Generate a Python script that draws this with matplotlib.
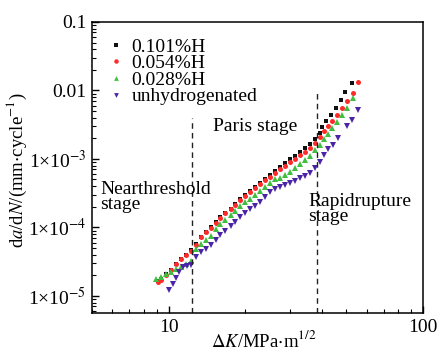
import matplotlib
matplotlib.use('Agg')
import matplotlib.pyplot as plt
from matplotlib.ticker import FixedLocator, FixedFormatter, LogLocator, NullFormatter

plt.rcParams['font.family'] = ['Liberation Serif', 'DejaVu Serif']
plt.rcParams['mathtext.fontset'] = 'stix'

# Delta K (MPa m^1/2) and da/dN (mm/cycle)
dk_h101 = [9.06, 9.30, 9.73, 10.18, 10.65, 11.14, 11.66, 12.20, 12.76, 13.35,
           13.97, 14.61, 15.29, 15.99, 16.73, 17.51, 18.31, 19.16, 20.04, 20.97,
           21.94, 22.95, 24.01, 25.12, 26.28, 27.49, 28.76, 30.09, 31.48, 32.94,
           34.45, 36.05, 37.71, 39.46, 40.18, 41.66, 43.58, 45.59, 47.70, 49.45, 52.68]
da_h101 = [1.66e-5, 1.77e-5, 2.10e-5, 2.40e-5, 2.93e-5, 3.47e-5, 3.97e-5, 4.69e-5, 5.74e-5, 7.26e-5,
           8.59e-5, 1.02e-4, 1.20e-4, 1.42e-4, 1.63e-4, 1.86e-4, 2.20e-4, 2.61e-4, 2.98e-4, 3.41e-4,
           3.90e-4, 4.46e-4, 5.11e-4, 5.84e-4, 6.68e-4, 7.64e-4, 8.74e-4, 1.00e-3, 1.11e-3, 1.26e-3,
           1.45e-3, 1.66e-3, 1.96e-3, 2.40e-3, 2.93e-3, 3.59e-3, 4.39e-3, 5.56e-3, 7.27e-3, 9.50e-3, 1.29e-2]

dk_h054 = [9.06, 9.30, 9.73, 10.18, 10.65, 11.14, 11.66, 12.20, 12.76, 13.35,
           13.97, 14.61, 15.29, 15.99, 16.73, 17.51, 18.31, 19.16, 20.04, 20.97,
           21.94, 22.95, 24.01, 25.12, 26.28, 27.49, 28.76, 30.09, 31.48, 32.94,
           34.45, 36.05, 37.71, 39.46, 40.91, 42.42, 43.98, 46.00, 48.13, 50.36, 53.15, 55.62]
da_h054 = [1.60e-5, 1.71e-5, 2.03e-5, 2.40e-5, 2.93e-5, 3.47e-5, 3.97e-5, 4.54e-5, 5.55e-5, 7.26e-5,
           8.59e-5, 9.84e-5, 1.16e-4, 1.38e-4, 1.63e-4, 1.86e-4, 2.13e-4, 2.52e-4, 2.88e-4, 3.30e-4,
           3.78e-4, 4.32e-4, 4.94e-4, 5.46e-4, 6.25e-4, 7.14e-4, 7.90e-4, 9.04e-4, 1.00e-3, 1.14e-3,
           1.26e-3, 1.45e-3, 1.71e-3, 2.10e-3, 2.56e-3, 3.03e-3, 3.59e-3, 4.39e-3, 5.56e-3, 7.03e-3,
           9.20e-3, 1.33e-2]

dk_h028 = [8.89, 9.30, 9.73, 10.18, 10.65, 11.14, 11.66, 12.20, 12.76, 13.35,
           13.97, 14.61, 15.29, 15.99, 16.73, 17.51, 18.31, 19.16, 20.04, 20.97,
           21.94, 22.95, 24.01, 25.12, 26.28, 27.49, 28.76, 30.09, 31.48, 32.94,
           34.45, 36.05, 37.71, 39.46, 40.91, 42.42, 43.98, 46.00, 48.13, 50.36, 53.15]
da_h028 = [1.77e-5, 1.89e-5, 2.10e-5, 2.24e-5, 2.48e-5, 2.65e-5, 2.93e-5, 3.24e-5, 4.85e-5, 5.74e-5,
           6.57e-5, 7.52e-5, 9.51e-5, 1.13e-4, 1.29e-4, 1.52e-4, 1.74e-4, 2.06e-4, 2.36e-4, 2.61e-4,
           2.98e-4, 3.41e-4, 3.90e-4, 4.46e-4, 5.11e-4, 5.28e-4, 5.84e-4, 6.46e-4, 7.39e-4, 8.45e-4,
           9.67e-4, 1.11e-3, 1.35e-3, 1.60e-3, 1.96e-3, 2.32e-3, 2.84e-3, 3.47e-3, 4.39e-3, 5.56e-3, 7.77e-3]

dk_unh = [10.00, 10.37, 10.65, 10.94, 11.35, 11.77, 12.20, 12.76, 13.35, 13.97,
          14.61, 15.29, 15.99, 16.73, 17.51, 18.31, 19.16, 20.04, 20.97, 21.94,
          22.95, 24.01, 25.12, 26.28, 27.49, 28.76, 30.09, 31.48, 32.94, 34.45,
          36.05, 37.71, 39.46, 40.91, 42.42, 44.38, 46.42, 50.36, 52.68, 55.62]
da_unh = [1.22e-5, 1.50e-5, 1.83e-5, 2.24e-5, 2.65e-5, 2.74e-5, 2.84e-5, 3.71e-5, 4.39e-5, 4.85e-5,
          5.55e-5, 6.57e-5, 7.77e-5, 8.89e-5, 1.05e-4, 1.20e-4, 1.42e-4, 1.63e-4, 1.86e-4, 2.06e-4,
          2.36e-4, 2.79e-4, 3.30e-4, 3.65e-4, 3.90e-4, 4.17e-4, 4.46e-4, 4.77e-4, 5.28e-4, 5.65e-4,
          6.25e-4, 7.39e-4, 9.04e-4, 1.14e-3, 1.40e-3, 1.60e-3, 2.03e-3, 3.03e-3, 3.71e-3, 5.19e-3]

# stage boundaries (Delta K) and the top of each dashed line
stage_dk = [12.4, 38.4]
stage_top = [4.0e-3, 9.2e-3]

y_ticks = [1e-5, 1e-4, 1e-3, 1e-2, 1e-1]
y_tick_labels = ['1×10$^{-5}$', '1×10$^{-4}$', '1×10$^{-3}$', '0.01', '0.1']
x_ticks = [10, 100]
x_tick_labels = ['10', '100']

fig = plt.figure(figsize=(4.38, 3.53), dpi=100)
ax = fig.add_axes([0.210, 0.113, 0.756, 0.825])

ms = 3.3
ax.plot(dk_h101, da_h101, 's', color='#111111', ms=ms, mew=0, label='0.101%H')
ax.plot(dk_h054, da_h054, 'o', color='#ff2b2b', ms=ms + 0.3, mew=0, label='0.054%H')
ax.plot(dk_h028, da_h028, '^', color='#3fbf3f', ms=ms + 0.5, mew=0, label='0.028%H')
ax.plot(dk_unh, da_unh, 'v', color='#4a23a6', ms=ms + 0.5, mew=0, label='unhydrogenated')

for k, top in zip(stage_dk, stage_top):
    ax.vlines(k, 5.6e-6, top, colors='#222222', linestyles=(0, (4, 3)), linewidth=1.0)

ax.set_xscale('log')
ax.set_yscale('log')
ax.set_xlim(5, 100)
ax.set_ylim(5.6e-6, 0.1)

ax.yaxis.set_major_locator(FixedLocator(y_ticks))
ax.yaxis.set_major_formatter(FixedFormatter(y_tick_labels))
ax.yaxis.set_minor_locator(LogLocator(base=10, subs=range(2, 10), numticks=20))
ax.yaxis.set_minor_formatter(NullFormatter())
ax.xaxis.set_major_locator(FixedLocator(x_ticks))
ax.xaxis.set_major_formatter(FixedFormatter(x_tick_labels))
ax.xaxis.set_minor_locator(LogLocator(base=10, subs=range(2, 10), numticks=20))
ax.xaxis.set_minor_formatter(NullFormatter())

ax.tick_params(which='both', direction='in', top=False, right=False, labelsize=14, pad=4)
ax.tick_params(which='major', length=5, width=1)
ax.tick_params(which='minor', length=3, width=0.8)
for s in ax.spines.values():
    s.set_linewidth(1.1)

ax.set_xlabel(r'$\Delta$$\it{K}$/MPa$\cdot$m$^{1/2}$', fontsize=13.5)
ax.xaxis.set_label_coords(0.52, -0.058)
ax.set_ylabel(r'd$\it{a}$/d$\it{N}$/(mm$\cdot$cycle$^{-1}$)', fontsize=13.5)
ax.yaxis.set_label_coords(-0.19, 0.49)

ax.text(0.024, 0.40, 'Nearthreshold\nstage', transform=ax.transAxes, fontsize=14,
        va='center', ha='left', linespacing=0.85)
ax.text(0.366, 0.64, 'Paris stage', transform=ax.transAxes, fontsize=14,
        va='center', ha='left')
ax.text(0.653, 0.357, 'Rapidrupture\nstage', transform=ax.transAxes, fontsize=14,
        va='center', ha='left', linespacing=0.85)

ax.legend(loc='upper left', bbox_to_anchor=(0.02, 0.985), frameon=False, fontsize=14,
          handlelength=0.6, handletextpad=0.5, labelspacing=-0.05, borderpad=0.1,
          markerscale=0.9)

fig.savefig('out.png', dpi=100)
